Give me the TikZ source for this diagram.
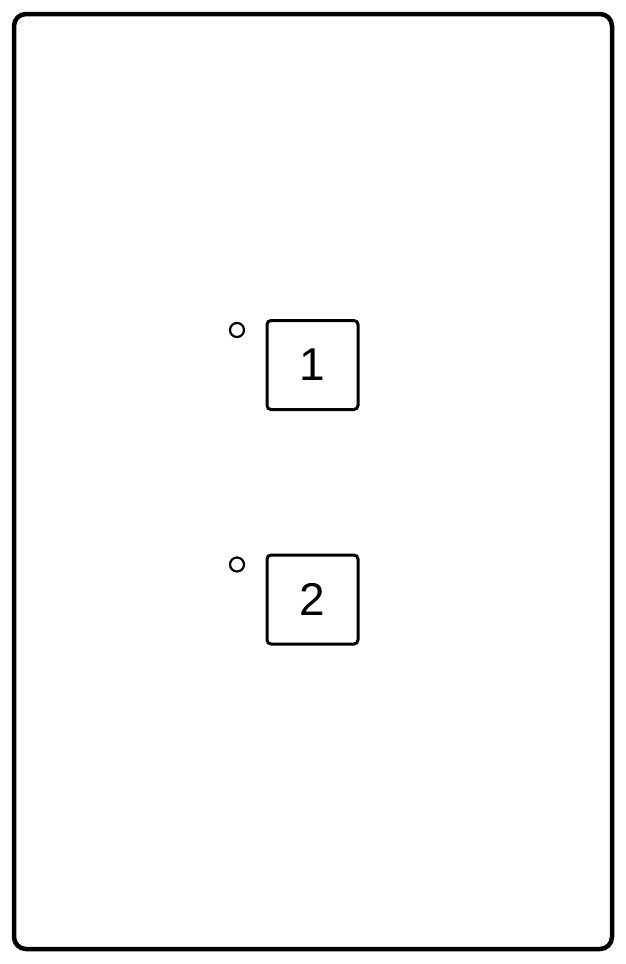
\documentclass[tikz,border=0pt]{standalone}
\usepackage{fontspec}
\setmainfont{Liberation Sans}
\usepackage{tikz}
\usetikzlibrary{positioning}

\begin{document}
\begin{tikzpicture}[x=1pt,y=-1pt,
btn/.style={draw,line width=3pt,rounded corners=4pt,minimum width=91pt,minimum height=89pt,inner sep=0pt,font=\fontsize{46}{46}\selectfont},
led/.style={draw,circle,line width=2.2pt,minimum size=14pt,inner sep=0pt}]
%\useasboundingbox
\useasboundingbox (0,0) rectangle (626,964);

% frame
\draw[line width=4.5pt,rounded corners=12pt] (14,14) rectangle (612,949);

\node[btn] (b1) at (312.5,365) {1};
\node[btn] (b2) at (312.5,599.5) {2};
\node[led] (l1) at (237,330) {};
\node[led] (l2) at (237,564.5) {};
\end{tikzpicture}
\end{document}
